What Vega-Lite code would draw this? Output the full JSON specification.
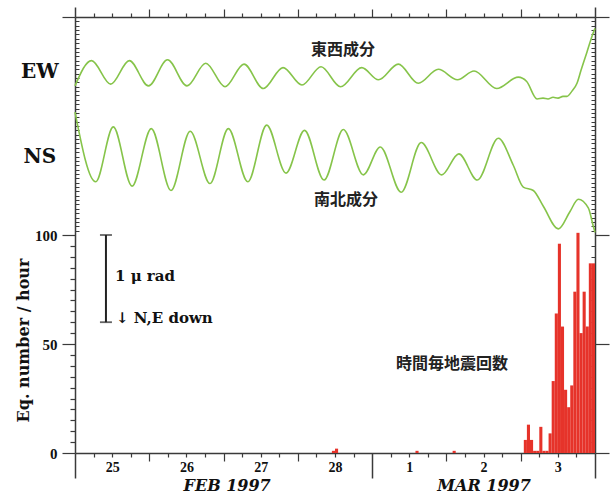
{
  "$schema": "https://vega.github.io/schema/vega-lite/v6.json",
  "width": 520,
  "height": 436,
  "autosize": {"type": "none"},
  "padding": {"left": 75, "top": 17, "right": 19, "bottom": 42},
  "config": {
    "view": {"stroke": null},
    "axis": {
      "grid": false,
      "domainColor": "#3a3a3a",
      "domainWidth": 1.5,
      "tickColor": "#3a3a3a",
      "tickWidth": 1.2,
      "labelColor": "#111",
      "labelFont": "Liberation Serif",
      "labelFontWeight": "bold",
      "titleColor": "#111",
      "titleFont": "DejaVu Serif",
      "titleFontWeight": "bold"
    }
  },
  "datasets": {
    "quakes": [
      {"from": "1997-02-28T11:00:00", "to": "1997-02-28T12:00:00", "count": 1},
      {"from": "1997-02-28T12:00:00", "to": "1997-02-28T13:00:00", "count": 2},
      {"from": "1997-03-01T14:00:00", "to": "1997-03-01T15:00:00", "count": 1},
      {"from": "1997-03-02T02:00:00", "to": "1997-03-02T03:00:00", "count": 1},
      {"from": "1997-03-03T01:00:00", "to": "1997-03-03T02:00:00", "count": 6},
      {"from": "1997-03-03T02:00:00", "to": "1997-03-03T03:00:00", "count": 13},
      {"from": "1997-03-03T03:00:00", "to": "1997-03-03T04:00:00", "count": 6},
      {"from": "1997-03-03T04:00:00", "to": "1997-03-03T05:00:00", "count": 1},
      {"from": "1997-03-03T05:00:00", "to": "1997-03-03T06:00:00", "count": 1},
      {"from": "1997-03-03T06:00:00", "to": "1997-03-03T07:00:00", "count": 12},
      {"from": "1997-03-03T07:00:00", "to": "1997-03-03T08:00:00", "count": 1},
      {"from": "1997-03-03T08:00:00", "to": "1997-03-03T09:00:00", "count": 1},
      {"from": "1997-03-03T09:00:00", "to": "1997-03-03T10:00:00", "count": 9},
      {"from": "1997-03-03T10:00:00", "to": "1997-03-03T11:00:00", "count": 33},
      {"from": "1997-03-03T11:00:00", "to": "1997-03-03T12:00:00", "count": 64},
      {"from": "1997-03-03T12:00:00", "to": "1997-03-03T13:00:00", "count": 96},
      {"from": "1997-03-03T13:00:00", "to": "1997-03-03T14:00:00", "count": 58},
      {"from": "1997-03-03T14:00:00", "to": "1997-03-03T15:00:00", "count": 29},
      {"from": "1997-03-03T15:00:00", "to": "1997-03-03T16:00:00", "count": 21},
      {"from": "1997-03-03T16:00:00", "to": "1997-03-03T17:00:00", "count": 31},
      {"from": "1997-03-03T17:00:00", "to": "1997-03-03T18:00:00", "count": 74},
      {"from": "1997-03-03T18:00:00", "to": "1997-03-03T19:00:00", "count": 101},
      {"from": "1997-03-03T19:00:00", "to": "1997-03-03T20:00:00", "count": 55},
      {"from": "1997-03-03T20:00:00", "to": "1997-03-03T21:00:00", "count": 74},
      {"from": "1997-03-03T21:00:00", "to": "1997-03-03T22:00:00", "count": 58},
      {"from": "1997-03-03T22:00:00", "to": "1997-03-03T23:00:00", "count": 87},
      {"from": "1997-03-03T23:00:00", "to": "1997-03-04T00:00:00", "count": 87}
    ],
    "tilt_ew": [
      {"time": "1997-02-25T00:00:00", "tilt": 4.21},
      {"time": "1997-02-25T05:20:00", "tilt": 4.50},
      {"time": "1997-02-25T11:32:00", "tilt": 4.23},
      {"time": "1997-02-25T17:33:00", "tilt": 4.50},
      {"time": "1997-02-25T23:45:00", "tilt": 4.21},
      {"time": "1997-02-26T05:53:00", "tilt": 4.51},
      {"time": "1997-02-26T12:11:00", "tilt": 4.21},
      {"time": "1997-02-26T18:14:00", "tilt": 4.47},
      {"time": "1997-02-27T00:28:00", "tilt": 4.20},
      {"time": "1997-02-27T06:36:00", "tilt": 4.46},
      {"time": "1997-02-27T12:50:00", "tilt": 4.18},
      {"time": "1997-02-27T19:12:00", "tilt": 4.42},
      {"time": "1997-02-28T01:20:00", "tilt": 4.22},
      {"time": "1997-02-28T07:29:00", "tilt": 4.43},
      {"time": "1997-02-28T13:47:00", "tilt": 4.20},
      {"time": "1997-02-28T20:38:00", "tilt": 4.42},
      {"time": "1997-03-01T02:03:00", "tilt": 4.28},
      {"time": "1997-03-01T08:27:00", "tilt": 4.46},
      {"time": "1997-03-01T14:55:00", "tilt": 4.24},
      {"time": "1997-03-01T21:23:00", "tilt": 4.40},
      {"time": "1997-03-02T03:35:00", "tilt": 4.28},
      {"time": "1997-03-02T08:55:00", "tilt": 4.38},
      {"time": "1997-03-02T16:15:00", "tilt": 4.18},
      {"time": "1997-03-02T23:13:00", "tilt": 4.31},
      {"time": "1997-03-03T01:56:00", "tilt": 4.26},
      {"time": "1997-03-03T05:16:00", "tilt": 4.06},
      {"time": "1997-03-03T07:12:00", "tilt": 4.07},
      {"time": "1997-03-03T08:49:00", "tilt": 4.06},
      {"time": "1997-03-03T10:26:00", "tilt": 4.08},
      {"time": "1997-03-03T12:03:00", "tilt": 4.07},
      {"time": "1997-03-03T13:40:00", "tilt": 4.09},
      {"time": "1997-03-03T14:57:00", "tilt": 4.09},
      {"time": "1997-03-03T16:34:00", "tilt": 4.15},
      {"time": "1997-03-03T18:11:00", "tilt": 4.24},
      {"time": "1997-03-03T19:29:00", "tilt": 4.39},
      {"time": "1997-03-03T21:25:00", "tilt": 4.60},
      {"time": "1997-03-03T23:21:00", "tilt": 4.81},
      {"time": "1997-03-04T00:00:00", "tilt": 4.87}
    ],
    "tilt_ns": [
      {"time": "1997-02-25T00:00:00", "tilt": 3.91},
      {"time": "1997-02-25T06:41:00", "tilt": 3.11},
      {"time": "1997-02-25T12:22:00", "tilt": 3.74},
      {"time": "1997-02-25T18:25:00", "tilt": 3.06},
      {"time": "1997-02-26T00:39:00", "tilt": 3.72},
      {"time": "1997-02-26T07:01:00", "tilt": 3.01},
      {"time": "1997-02-26T13:13:00", "tilt": 3.69},
      {"time": "1997-02-26T19:37:00", "tilt": 3.09},
      {"time": "1997-02-27T01:32:00", "tilt": 3.72},
      {"time": "1997-02-27T07:50:00", "tilt": 3.11},
      {"time": "1997-02-27T13:56:00", "tilt": 3.76},
      {"time": "1997-02-27T20:10:00", "tilt": 3.21},
      {"time": "1997-02-28T02:09:00", "tilt": 3.70},
      {"time": "1997-02-28T08:27:00", "tilt": 3.13},
      {"time": "1997-02-28T14:41:00", "tilt": 3.71},
      {"time": "1997-02-28T21:09:00", "tilt": 3.19},
      {"time": "1997-03-01T02:38:00", "tilt": 3.51},
      {"time": "1997-03-01T09:23:00", "tilt": 2.99},
      {"time": "1997-03-01T15:51:00", "tilt": 3.56},
      {"time": "1997-03-01T22:28:00", "tilt": 3.19},
      {"time": "1997-03-02T04:00:00", "tilt": 3.43},
      {"time": "1997-03-02T09:59:00", "tilt": 3.13},
      {"time": "1997-03-02T16:46:00", "tilt": 3.61},
      {"time": "1997-03-02T21:36:00", "tilt": 3.30},
      {"time": "1997-03-03T00:50:00", "tilt": 3.05},
      {"time": "1997-03-03T04:04:00", "tilt": 3.01},
      {"time": "1997-03-03T07:18:00", "tilt": 2.83},
      {"time": "1997-03-03T12:09:00", "tilt": 2.57},
      {"time": "1997-03-03T15:56:00", "tilt": 2.77},
      {"time": "1997-03-03T18:36:00", "tilt": 2.91},
      {"time": "1997-03-03T21:50:00", "tilt": 2.81},
      {"time": "1997-03-03T23:27:00", "tilt": 2.60},
      {"time": "1997-03-04T00:00:00", "tilt": 2.53}
    ],
    "scalebar": [
      {"time": "1997-02-25T10:00:00", "tilt": 1.5},
      {"time": "1997-02-25T10:00:00", "tilt": 2.5}
    ],
    "component_names": [
      {"label": "EW", "at": "1997-02-24T12:40:00", "level": 175},
      {"label": "NS", "at": "1997-02-24T12:40:00", "level": 136}
    ],
    "component_titles": [
      {"label": "東西成分", "at": "1997-02-28T14:35:00", "level": 185},
      {"label": "南北成分", "at": "1997-02-28T15:33:00", "level": 116}
    ],
    "count_title": [
      {"label": "時間毎地震回数", "at": "1997-03-02T01:48:00", "level": 41}
    ],
    "scalebar_notes": [
      {"label": "1 μ rad", "at": "1997-02-25T12:55:00", "level": 81},
      {"label": "↓ N,E down", "at": "1997-02-25T13:15:00", "level": 62}
    ]
  },
  "layer": [
    {
      "data": {"name": "quakes"},
      "mark": {"type": "bar", "color": "#e6332a"},
      "encoding": {
        "x": {
          "field": "from", "type": "temporal",
          "scale": {"domain": [{"year": 1997, "month": 2, "date": 25}, {"year": 1997, "month": 3, "date": 4}], "nice": false},
          "axis": {
            "orient": "bottom", "title": null, "domain": true, "ticks": false, "tickSize": 0,
            "values": [
              {"year": 1997, "month": 2, "date": 25, "hours": 12},
              {"year": 1997, "month": 2, "date": 26, "hours": 12},
              {"year": 1997, "month": 2, "date": 27, "hours": 12},
              {"year": 1997, "month": 2, "date": 28, "hours": 12},
              {"year": 1997, "month": 3, "date": 1, "hours": 12},
              {"year": 1997, "month": 3, "date": 2, "hours": 12},
              {"year": 1997, "month": 3, "date": 3, "hours": 12}
            ],
            "format": "%-d", "labelPadding": 14, "labelBaseline": "middle", "labelFontSize": 14,
            "labelOverlap": false, "labelFlush": false, "labelBound": false
          }
        },
        "x2": {"field": "to"},
        "y": {
          "field": "count", "type": "quantitative",
          "scale": {"domain": [0, 200], "nice": false},
          "axis": {
            "orient": "left", "values": [0, 50, 100, 200],
            "labelExpr": "datum.value == 200 ? '' : datum.label",
            "tickSize": 13, "labelPadding": 5, "labelFontSize": 15, "domain": true,
            "title": "Eq. number / hour", "titleFontSize": 16, "titleAngle": 270,
            "titleX": -52, "titleY": 323, "titleBaseline": "middle", "titleAlign": "center"
          }
        },
        "y2": {"datum": 0}
      }
    },
    {
      "data": {"name": "component_names"},
      "mark": {"type": "text", "font": "DejaVu Serif", "fontWeight": "bold", "fontSize": 20, "align": "center", "baseline": "middle", "color": "#111"},
      "encoding": {
        "x": {
          "field": "at", "type": "temporal",
          "axis": {
            "orient": "bottom", "title": null, "domain": false, "labels": false, "tickSize": 8,
            "values": [
              {"year": 1997, "month": 2, "date": 26}, {"year": 1997, "month": 2, "date": 27},
              {"year": 1997, "month": 2, "date": 28}, {"year": 1997, "month": 3, "date": 2},
              {"year": 1997, "month": 3, "date": 3}
            ]
          }
        },
        "y": {
          "field": "level", "type": "quantitative",
          "scale": {"domain": [0, 200], "nice": false},
          "axis": {
            "orient": "left", "title": null, "domain": false, "labels": false, "tickSize": -4, "tickWidth": 1,
            "values": [102, 104, 106, 108, 110, 112, 114, 116, 118, 120, 122, 124, 126, 128, 130, 132, 134, 136, 138, 140, 142, 144, 146, 148, 150, 152, 154, 156, 158, 160, 162, 164, 166, 168, 170, 172, 174, 176, 178, 180, 182, 184, 186, 188, 190, 192, 194, 196, 198]
          }
        },
        "text": {"field": "label"}
      }
    },
    {
      "data": {"name": "component_titles"},
      "mark": {"type": "text", "font": "Noto Sans CJK JP", "fontWeight": "bold", "fontSize": 16, "align": "center", "baseline": "middle", "color": "#222"},
      "encoding": {
        "x": {
          "field": "at", "type": "temporal",
          "axis": {
            "orient": "bottom", "title": null, "domain": false, "labels": false, "tickSize": 4,
            "values": [
              {"year": 1997, "month": 2, "date": 25, "hours": 6}, {"year": 1997, "month": 2, "date": 25, "hours": 12}, {"year": 1997, "month": 2, "date": 25, "hours": 18},
              {"year": 1997, "month": 2, "date": 26, "hours": 6}, {"year": 1997, "month": 2, "date": 26, "hours": 12}, {"year": 1997, "month": 2, "date": 26, "hours": 18},
              {"year": 1997, "month": 2, "date": 27, "hours": 6}, {"year": 1997, "month": 2, "date": 27, "hours": 12}, {"year": 1997, "month": 2, "date": 27, "hours": 18},
              {"year": 1997, "month": 2, "date": 28, "hours": 6}, {"year": 1997, "month": 2, "date": 28, "hours": 12}, {"year": 1997, "month": 2, "date": 28, "hours": 18},
              {"year": 1997, "month": 3, "date": 1, "hours": 6}, {"year": 1997, "month": 3, "date": 1, "hours": 12}, {"year": 1997, "month": 3, "date": 1, "hours": 18},
              {"year": 1997, "month": 3, "date": 2, "hours": 6}, {"year": 1997, "month": 3, "date": 2, "hours": 12}, {"year": 1997, "month": 3, "date": 2, "hours": 18},
              {"year": 1997, "month": 3, "date": 3, "hours": 6}, {"year": 1997, "month": 3, "date": 3, "hours": 12}, {"year": 1997, "month": 3, "date": 3, "hours": 18}
            ]
          }
        },
        "y": {
          "field": "level", "type": "quantitative",
          "scale": {"domain": [0, 200], "nice": false},
          "axis": {
            "orient": "left", "title": null, "domain": false, "labels": false, "tickSize": 5,
            "values": [5, 10, 15, 20, 25, 30, 35, 40, 45, 55, 60, 65, 70, 75, 80, 85, 90, 95]
          }
        },
        "text": {"field": "label"}
      }
    },
    {
      "data": {"name": "count_title"},
      "mark": {"type": "text", "font": "Noto Sans CJK JP", "fontWeight": "bold", "fontSize": 16, "align": "center", "baseline": "middle", "color": "#222"},
      "encoding": {
        "x": {
          "field": "at", "type": "temporal",
          "axis": {
            "orient": "bottom", "title": null, "domain": false, "labels": false, "tickSize": 25, "tickWidth": 1.5,
            "values": [{"year": 1997, "month": 2, "date": 25}, {"year": 1997, "month": 3, "date": 1}, {"year": 1997, "month": 3, "date": 4}]
          }
        },
        "y": {
          "field": "level", "type": "quantitative",
          "scale": {"domain": [0, 200], "nice": false},
          "axis": {"orient": "right", "title": null, "domain": true, "labels": false, "tickSize": 14, "values": [0, 50, 100, 200]}
        },
        "text": {"field": "label"}
      }
    },
    {
      "data": {"name": "scalebar_notes"},
      "mark": {"type": "text", "font": "DejaVu Serif", "fontWeight": "bold", "fontSize": 15, "align": "left", "baseline": "middle", "color": "#111"},
      "encoding": {
        "x": {
          "field": "at", "type": "temporal",
          "axis": {
            "orient": "top", "title": null, "domain": true, "labels": false, "tickSize": 8,
            "values": [
              {"year": 1997, "month": 2, "date": 26}, {"year": 1997, "month": 2, "date": 27},
              {"year": 1997, "month": 2, "date": 28}, {"year": 1997, "month": 3, "date": 1},
              {"year": 1997, "month": 3, "date": 2}, {"year": 1997, "month": 3, "date": 3}
            ]
          }
        },
        "y": {
          "field": "level", "type": "quantitative",
          "scale": {"domain": [0, 200], "nice": false},
          "axis": {
            "orient": "right", "title": null, "domain": false, "labels": false, "tickSize": -4, "tickWidth": 1,
            "values": [5, 10, 15, 20, 25, 30, 35, 40, 45, 55, 60, 65, 70, 75, 80, 85, 90, 95, 102, 104, 106, 108, 110, 112, 114, 116, 118, 120, 122, 124, 126, 128, 130, 132, 134, 136, 138, 140, 142, 144, 146, 148, 150, 152, 154, 156, 158, 160, 162, 164, 166, 168, 170, 172, 174, 176, 178, 180, 182, 184, 186, 188, 190, 192, 194, 196, 198]
          }
        },
        "text": {"field": "label"}
      }
    },
    {
      "data": {"name": "tilt_ew"},
      "mark": {"type": "line", "color": "#86c44a", "strokeWidth": 1.6, "interpolate": "monotone"},
      "encoding": {
        "x": {
          "field": "time", "type": "temporal",
          "axis": {
            "orient": "top", "title": null, "domain": false, "labels": false, "tickSize": 4,
            "values": [
              {"year": 1997, "month": 2, "date": 25, "hours": 6}, {"year": 1997, "month": 2, "date": 25, "hours": 12}, {"year": 1997, "month": 2, "date": 25, "hours": 18},
              {"year": 1997, "month": 2, "date": 26, "hours": 6}, {"year": 1997, "month": 2, "date": 26, "hours": 12}, {"year": 1997, "month": 2, "date": 26, "hours": 18},
              {"year": 1997, "month": 2, "date": 27, "hours": 6}, {"year": 1997, "month": 2, "date": 27, "hours": 12}, {"year": 1997, "month": 2, "date": 27, "hours": 18},
              {"year": 1997, "month": 2, "date": 28, "hours": 6}, {"year": 1997, "month": 2, "date": 28, "hours": 12}, {"year": 1997, "month": 2, "date": 28, "hours": 18},
              {"year": 1997, "month": 3, "date": 1, "hours": 6}, {"year": 1997, "month": 3, "date": 1, "hours": 12}, {"year": 1997, "month": 3, "date": 1, "hours": 18},
              {"year": 1997, "month": 3, "date": 2, "hours": 6}, {"year": 1997, "month": 3, "date": 2, "hours": 12}, {"year": 1997, "month": 3, "date": 2, "hours": 18},
              {"year": 1997, "month": 3, "date": 3, "hours": 6}, {"year": 1997, "month": 3, "date": 3, "hours": 12}, {"year": 1997, "month": 3, "date": 3, "hours": 18}
            ]
          }
        },
        "y": {"field": "tilt", "type": "quantitative", "scale": {"domain": [0, 5], "nice": false}, "axis": null}
      }
    },
    {
      "data": {"name": "tilt_ns"},
      "mark": {"type": "line", "color": "#86c44a", "strokeWidth": 1.6, "interpolate": "monotone"},
      "encoding": {
        "x": {
          "field": "time", "type": "temporal",
          "axis": {
            "orient": "top", "title": null, "domain": false, "labels": false, "tickSize": 10, "tickWidth": 1.5,
            "values": [{"year": 1997, "month": 2, "date": 25}, {"year": 1997, "month": 3, "date": 4}]
          }
        },
        "y": {"field": "tilt", "type": "quantitative", "scale": {"domain": [0, 5], "nice": false}, "axis": null}
      }
    },
    {
      "data": {"name": "scalebar"},
      "mark": {"type": "line", "color": "#222", "strokeWidth": 2},
      "encoding": {
        "x": {
          "field": "time", "type": "temporal",
          "axis": {
            "orient": "bottom", "title": null, "domain": false, "ticks": false, "tickSize": 0,
            "values": [{"year": 1997, "month": 2, "date": 27, "hours": 1}, {"year": 1997, "month": 3, "date": 2, "hours": 12}],
            "labelExpr": "upper(timeFormat(datum.value, '%b %Y'))",
            "labelPadding": 32, "labelBaseline": "middle", "labelFont": "DejaVu Serif", "labelFontStyle": "italic",
            "labelFontSize": 16, "labelOverlap": false, "labelFlush": false, "labelBound": false
          }
        },
        "y": {"field": "tilt", "type": "quantitative", "scale": {"domain": [0, 5], "nice": false}, "axis": null}
      }
    },
    {
      "data": {"name": "scalebar"},
      "mark": {"type": "tick", "orient": "horizontal", "color": "#222", "size": 12, "thickness": 1.8},
      "encoding": {
        "x": {"field": "time", "type": "temporal", "axis": null},
        "y": {"field": "tilt", "type": "quantitative", "scale": {"domain": [0, 5], "nice": false}, "axis": null}
      }
    }
  ],
  "resolve": {"scale": {"y": "independent"}, "axis": {"x": "independent", "y": "independent"}}
}
